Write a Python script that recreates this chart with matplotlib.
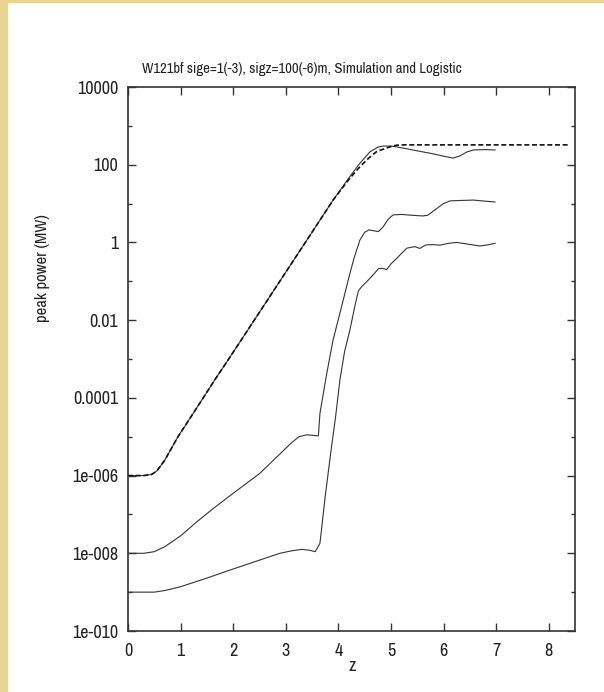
import matplotlib
matplotlib.use("Agg")
import matplotlib.pyplot as plt
from matplotlib.ticker import FixedLocator, FixedFormatter, NullLocator, NullFormatter

plt.rcParams['font.family'] = ['Archivo Narrow', 'Liberation Sans', 'DejaVu Sans']

# ---------------- data ----------------
title = "W121bf sige=1(-3), sigz=100(-6)m, Simulation and Logistic"
xlabel = "z"
ylabel = "peak power (MW)"

x_ticks = [0, 1, 2, 3, 4, 5, 6, 7, 8]
x_ticklabels = ["0", "1", "2", "3", "4", "5", "6", "7", "8"]
y_ticks = [1e4, 1e2, 1e0, 1e-2, 1e-4, 1e-6, 1e-8, 1e-10]
y_ticklabels = ["10000", "100", "1", "0.01", "0.0001", "1e-006", "1e-008", "1e-010"]
y_minor = [1e3, 1e1, 1e-1, 1e-3, 1e-5, 1e-7, 1e-9]

# Logistic model (dashed)
logi_z = [0.0, 0.3, 0.45, 0.55, 0.7, 0.95, 1.2, 1.43, 1.65, 1.9, 2.5, 3.3,
          3.9, 4.2, 4.41, 4.6, 4.73, 4.98, 5.1, 5.2, 8.4]
logi_p = [1.0e-6, 1.0e-6, 1.07e-6, 1.32e-6, 2.5e-6, 1.0e-5, 3.3e-5, 1.0e-4,
          2.9e-4, 9.3e-4, 1.6e-2, 0.71, 12.3, 41.7, 89.0, 158.0, 219.0,
          288.0, 316.0, 324.0, 324.0]

# Simulation, case 1 (top solid)
sim1_z = [0.0, 0.3, 0.45, 0.55, 0.7, 0.95, 1.2, 1.43, 1.65, 1.9, 2.5, 3.3,
          3.9, 4.2, 4.4, 4.6, 4.75, 4.85, 5.0, 5.11, 5.3, 5.49, 5.8, 6.0,
          6.18, 6.3, 6.45, 6.57, 6.8, 6.98]
sim1_p = [1.0e-6, 1.0e-6, 1.07e-6, 1.32e-6, 2.5e-6, 1.0e-5, 3.3e-5, 1.0e-4,
          2.9e-4, 9.3e-4, 1.6e-2, 0.71, 12.3, 45.7, 105.0, 214.0, 282.0,
          302.0, 302.0, 288.0, 257.0, 229.0, 191.0, 166.0, 148.0, 166.0,
          214.0, 240.0, 245.0, 240.0]

# Simulation, case 2 (middle solid)
sim2_z = [0.0, 0.3, 0.5, 0.7, 1.0, 1.3, 1.6, 2.0, 2.5, 2.85, 3.1, 3.25, 3.4,
          3.55, 3.62, 3.65, 3.78, 3.9, 4.06, 4.22, 4.3, 4.41, 4.5, 4.58, 4.67,
          4.76, 4.85, 4.95, 5.04, 5.2, 5.4, 5.6, 5.7, 5.85, 6.0, 6.12, 6.3,
          6.57, 6.8, 6.98]
sim2_p = [1.0e-8, 1.0e-8, 1.1e-8, 1.48e-8, 2.8e-8, 6.3e-8, 1.35e-7, 3.5e-7,
          1.12e-6, 3.2e-6, 6.8e-6, 1.0e-5, 1.12e-5, 1.07e-5, 1.05e-5, 4.0e-5,
          4.3e-4, 3.1e-3, 2.2e-2, 0.16, 0.40, 1.15, 1.82, 2.1, 2.0, 1.9,
          2.5, 4.0, 5.1, 5.25, 5.0, 4.8, 5.0, 7.1, 10.0, 11.7, 12.0, 12.3,
          11.5, 11.0]

# Simulation, case 3 (bottom solid)
sim3_z = [0.0, 0.5, 0.7, 1.0, 1.5, 1.94, 2.4, 2.89, 3.1, 3.3, 3.45, 3.56,
          3.65, 3.75, 3.87, 3.94, 4.03, 4.12, 4.22, 4.32, 4.38, 4.44, 4.54,
          4.65, 4.76, 4.84, 4.92, 5.0, 5.11, 5.3, 5.45, 5.55, 5.66,
          5.8, 5.93, 6.1, 6.25, 6.45, 6.69, 6.85, 6.98]
sim3_p = [1.0e-9, 1.0e-9, 1.1e-9, 1.38e-9, 2.3e-9, 3.7e-9, 6.0e-9, 1.0e-8,
          1.15e-8, 1.26e-8, 1.2e-8, 1.1e-8, 1.8e-8, 2.9e-7, 5.5e-6, 2.7e-5,
          2.9e-4, 1.6e-3, 5.6e-3, 2.5e-2, 5.6e-2, 7.2e-2, 9.8e-2, 0.14, 0.21,
          0.215, 0.2, 0.28, 0.39, 0.71, 0.78, 0.7, 0.86, 0.88, 0.85,
          0.95, 1.0, 0.91, 0.81, 0.87, 0.95]

# ---------------- figure ----------------
W, H = 604, 692
fig = plt.figure(figsize=(W / 100, H / 100), dpi=100)
fig.patch.set_facecolor('#EAD494')
# white slide panel
panel = plt.Rectangle((8 / W, 0), 1 - 8 / W, 1 - 3 / H, transform=fig.transFigure,
                      facecolor='white', edgecolor='none', zorder=-10)
fig.patches.append(panel)

ax = fig.add_axes([128 / W, 1 - 631 / H, (575 - 128) / W, (631 - 87) / H])
ax.set_zorder(5)
ax.set_facecolor('white')

ax.plot(sim1_z, sim1_p, color='#333333', lw=0.8)
ax.plot(sim2_z, sim2_p, color='#333333', lw=0.8)
ax.plot(sim3_z, sim3_p, color='#333333', lw=0.8)
ax.plot(logi_z, logi_p, color='#111111', lw=1.2, linestyle=(0, (3.0, 1.6)))

ax.set_yscale('log')
ax.set_xlim(0, 8.5)
ax.set_ylim(1e-10, 1e4)

ax.xaxis.set_major_locator(FixedLocator(x_ticks))
ax.xaxis.set_major_formatter(FixedFormatter(x_ticklabels))
ax.xaxis.set_minor_locator(NullLocator())
ax.yaxis.set_major_locator(FixedLocator(y_ticks))
ax.yaxis.set_major_formatter(FixedFormatter(y_ticklabels))
ax.yaxis.set_minor_locator(FixedLocator(y_minor))
ax.yaxis.set_minor_formatter(NullFormatter())

ax.tick_params(which='both', direction='in', top=True, right=True,
               color='#333333', width=1.0)
ax.tick_params(which='major', length=6.0, labelsize=13, labelcolor='#222222')
ax.tick_params(axis='y', which='major', pad=7)
ax.tick_params(axis='x', which='major', pad=9)
ax.tick_params(which='minor', length=3)
for s in ax.spines.values():
    s.set_linewidth(1.2)
    s.set_color('#333333')

fig.text(0.5, 1 - 69 / H, title, ha='center', va='center', fontsize=10.6, color='#222222')
fig.text(352 / W, 1 - 666 / H, xlabel, ha='center', va='center', fontsize=13, color='#222222')
fig.text(43 / W, 1 - 268 / H, ylabel, ha='center', va='center', rotation=90,
         fontsize=12, color='#222222')

fig.savefig('out.png', dpi=100, facecolor=fig.get_facecolor())
